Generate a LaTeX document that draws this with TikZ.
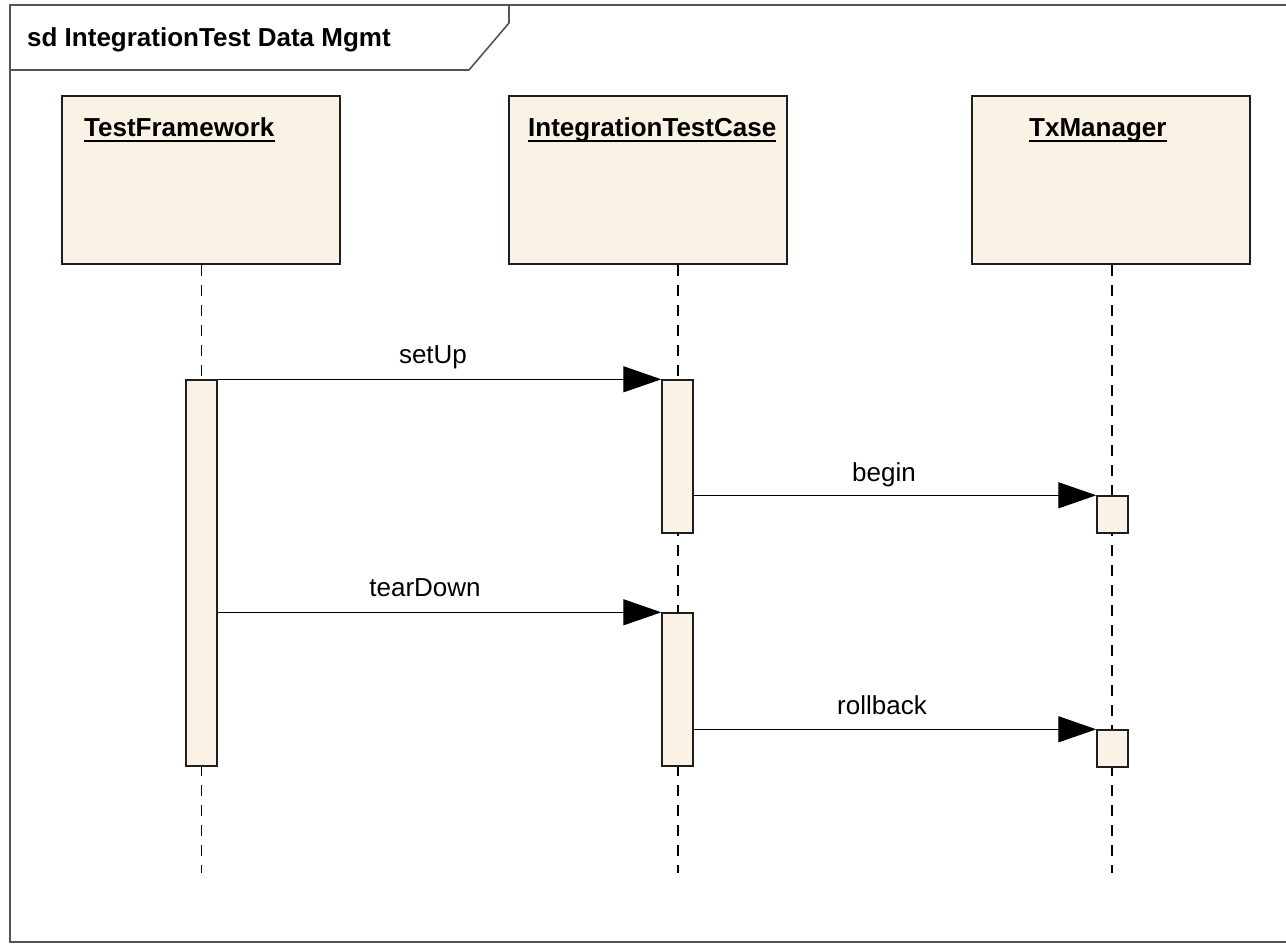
\documentclass[tikz,border=0pt]{standalone}
\usepackage{fontspec}
\setmainfont{Liberation Sans}
\usetikzlibrary{arrows.meta}

\definecolor{headfill}{RGB}{251,242,230}
\definecolor{framegray}{RGB}{85,85,85}
\definecolor{edge}{RGB}{30,30,30}

\tikzset{
  frameline/.style={draw=framegray, line width=1.6pt},
  headbox/.style={draw=edge, fill=headfill, line width=1.6pt, minimum width=278pt, minimum height=168pt, inner sep=0pt},
  lifename/.style={font=\fontsize{26}{30}\selectfont\bfseries, inner sep=0pt, anchor=base west},
  nameline/.style={draw=black, line width=2pt},
  lifeline/.style={draw=black, line width=1.2pt, dash pattern=on 11pt off 9pt},
  actbar/.style={draw=edge, fill=headfill, line width=1.4pt, minimum width=31pt, inner sep=0pt},
  msg/.style={draw=black, line width=1.3pt, -{Triangle[length=38pt,width=26pt]}},
  msglabel/.style={font=\fontsize{26}{30}\selectfont, inner sep=0pt, anchor=base},
  titletext/.style={font=\fontsize{26}{30}\selectfont\bfseries, inner sep=0pt, anchor=base west}
}

\begin{document}
\begin{tikzpicture}[x=1pt, y=-1pt]
\useasboundingbox (0,0) rectangle (1286,944);

% diagram frame (open at the right edge of the page) and its name tab
\draw[frameline] (1286,5) -- (10,5) -- (10,942) -- (1286,942);
\draw[frameline] (10,70) -- (469,70) -- (509,23) -- (509,5);
\node[titletext] (title) at (27,47) {sd IntegrationTest Data Mgmt};

% lifeline heads
\node[headbox] (tf)  at (201,180)  {};
\node[headbox] (itc) at (648,180)  {};
\node[headbox] (tx)  at (1111,180) {};

\node[lifename] (tfname)  at (84,137)   {TestFramework};
\node[lifename] (itcname) at (528,137)  {IntegrationTestCase};
\node[lifename] (txname)  at (1029,137) {TxManager};
\foreach \n in {tfname, itcname, txname}
  \draw[nameline] ([yshift=-4pt]\n.base west) -- ([yshift=-4pt]\n.base east);

% lifelines
\coordinate (tfend)  at (201.5,873);
\coordinate (itcend) at (678,873);
\coordinate (txend)  at (1112,873);
\draw[lifeline] (tfend |- tf.south)   -- (tfend);
\draw[lifeline] (itcend |- itc.south) -- (itcend);
\draw[lifeline] (txend |- tx.south)   -- (txend);

% activations
\node[actbar, minimum height=386pt] (tfa)   at (201.5,573)   {};
\node[actbar, minimum height=153pt] (itca1) at (677.5,456.5) {};
\node[actbar, minimum height=153pt] (itca2) at (677.5,689.5) {};
\node[actbar, minimum height=37pt]  (txa1)  at (1112.5,514.5) {};
\node[actbar, minimum height=37pt]  (txa2)  at (1112.5,748.5) {};

% messages
\draw[msg] (tfa.north east) -- (itca1.north west);
\draw[msg] (itca1.east |- txa1.north) -- (txa1.north west);
\draw[msg] (tfa.east |- itca2.north) -- (itca2.north west);
\draw[msg] (itca2.east |- txa2.north) -- (txa2.north west);

\node[msglabel] (lsetup)    at (433,363) {setUp};
\node[msglabel] (lbegin)    at (884,481) {begin};
\node[msglabel] (lteardown) at (425,596) {tearDown};
\node[msglabel] (lrollback) at (882,714) {rollback};
\end{tikzpicture}
\end{document}
